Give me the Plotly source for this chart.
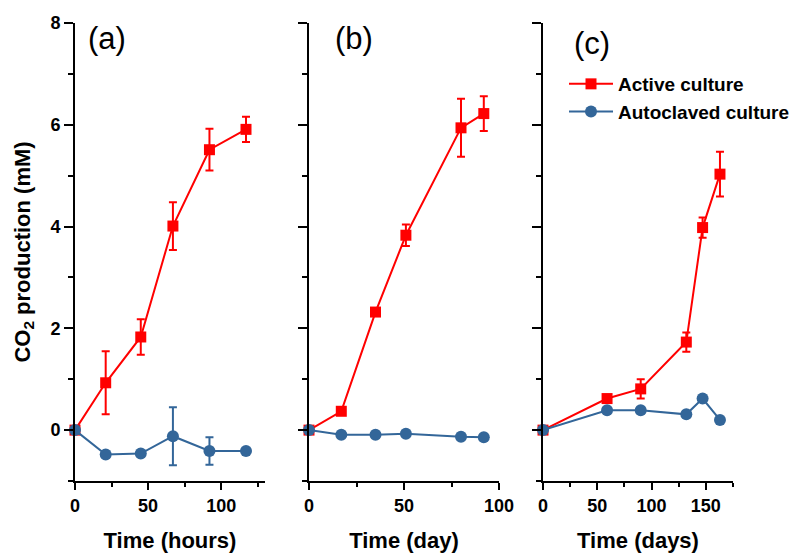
import plotly.graph_objects as go

# ---- data ----
a_time = [0, 21, 45, 67, 92, 117]
a_active = [0, 0.93, 1.83, 4.01, 5.51, 5.91]
a_active_err = [0, 0.62, 0.35, 0.47, 0.41, 0.25]
a_auto = [0, -0.48, -0.46, -0.12, -0.41, -0.41]
a_auto_err = [0, 0, 0, 0.57, 0.27, 0]

b_time = [0, 17, 35, 51, 80, 92]
b_active = [0, 0.37, 2.32, 3.83, 5.94, 6.22]
b_active_err = [0, 0.07, 0.05, 0.21, 0.57, 0.34]
b_auto = [0, -0.09, -0.09, -0.07, -0.13, -0.14]
b_auto_err = [0, 0, 0, 0, 0, 0]

c_time = [0, 59, 90, 132, 147, 163]
c_active = [0, 0.62, 0.81, 1.73, 3.98, 5.03]
c_active_err = [0, 0.06, 0.19, 0.19, 0.20, 0.44]
c_auto = [0, 0.39, 0.39, 0.31, 0.62, 0.20]
c_auto_err = [0, 0, 0, 0, 0, 0]

panel_labels = ["(a)", "(b)", "(c)"]
x_titles = ["Time (hours)", "Time (day)", "Time (days)"]
x_ranges = [[0, 130], [0, 100], [0, 175]]
y_title = "CO<sub>2</sub> production (mM)"
series_names = ["Active culture", "Autoclaved culture"]

RED = "#FF0000"
BLUE = "#336699"
FONT = "Liberation Sans, Arial, sans-serif"

panels = [
    (a_time, a_active, a_active_err, a_auto, a_auto_err),
    (b_time, b_active, b_active_err, b_auto, b_auto_err),
    (c_time, c_active, c_active_err, c_auto, c_auto_err),
]

fig = go.Figure()
for i, (t, act, act_e, aut, aut_e) in enumerate(panels):
    xa = "x" if i == 0 else f"x{i+1}"
    ya = "y" if i == 0 else f"y{i+1}"
    show = (i == 2)
    fig.add_trace(go.Scatter(
        x=t, y=act, xaxis=xa, yaxis=ya, name=series_names[0], mode="lines+markers",
        line=dict(color=RED, width=2), marker=dict(symbol="square", size=11, color=RED),
        error_y=dict(type="data", array=act_e, color=RED, thickness=2, width=4, visible=True),
        cliponaxis=False, showlegend=show, legendrank=1))
    fig.add_trace(go.Scatter(
        x=t, y=aut, xaxis=xa, yaxis=ya, name=series_names[1], mode="lines+markers",
        line=dict(color=BLUE, width=2), marker=dict(symbol="circle", size=12, color=BLUE),
        error_y=dict(type="data", array=aut_e, color=BLUE, thickness=2, width=4, visible=True),
        cliponaxis=False, showlegend=show, legendrank=2))

W, H = 794, 555
L, R, T, B = 75, 61, 23, 74
pw = W - L - R
ph = H - T - B
domains = [[0, 190 / pw], [(309 - L) / pw, (499 - L) / pw], [(543 - L) / pw, 1.0]]

tickfont = dict(family=FONT, size=18, color="black", weight="bold")
titlefont = dict(family=FONT, size=22, color="black", weight="bold")

layout = dict(
    width=W, height=H,
    margin=dict(l=L, r=R, t=T, b=B, autoexpand=False),
    paper_bgcolor="white", plot_bgcolor="white",
    font=dict(family=FONT, color="black"),
    legend=dict(x=(564 - L) / pw, y=(481 - 65) / ph, xanchor="left", yanchor="top",
                font=dict(family=FONT, size=19, color="black", weight="bold"),
                itemwidth=44,
                bgcolor="rgba(0,0,0,0)", traceorder="normal", tracegroupgap=0),
    showlegend=True,
)

for i in range(3):
    xk = "xaxis" if i == 0 else f"xaxis{i+1}"
    yk = "yaxis" if i == 0 else f"yaxis{i+1}"
    ya = "y" if i == 0 else f"y{i+1}"
    xa = "x" if i == 0 else f"x{i+1}"
    layout[xk] = dict(
        domain=domains[i], anchor=ya, range=x_ranges[i], dtick=50, tick0=0,
        showline=True, linewidth=2, linecolor="black", ticks="outside", ticklen=7,
        tickwidth=2, tickcolor="black", showgrid=False, zeroline=False,
        tickfont=tickfont, automargin=False,
        minor=dict(ticks="outside", ticklen=4, tickwidth=2, tickcolor="black", dtick=25, tick0=0, showgrid=False),
        title=dict(text=x_titles[i], font=titlefont, standoff=18),
    )
    layout[yk] = dict(
        domain=[0, 1], anchor=xa, range=[-1, 8], dtick=2, tick0=0,
        showline=True, linewidth=2, linecolor="black", ticks="outside", ticklen=9,
        tickwidth=2, tickcolor="black", showgrid=False, zeroline=False,
        tickfont=tickfont, showticklabels=(i == 0), automargin=False,
        minor=dict(ticks="outside", ticklen=5, tickwidth=2, tickcolor="black", dtick=1, tick0=-1, showgrid=False),
    )
layout["yaxis"]["title"] = dict(text=y_title, font=titlefont, standoff=14)

fig.update_layout(**layout)

label_pos = [(0.17, 39), (0.237, 39), (0.26, 43)]
for i, lab in enumerate(panel_labels):
    xa = "x" if i == 0 else f"x{i+1}"
    ya = "y" if i == 0 else f"y{i+1}"
    fx, py = label_pos[i]
    fig.add_annotation(text=lab, xref=f"{xa} domain", yref=f"{ya} domain",
                       x=fx, y=(481 - py) / ph, xanchor="center", yanchor="middle",
                       showarrow=False, font=dict(family=FONT, size=31, color="black"))

fig.write_html("out.html")
